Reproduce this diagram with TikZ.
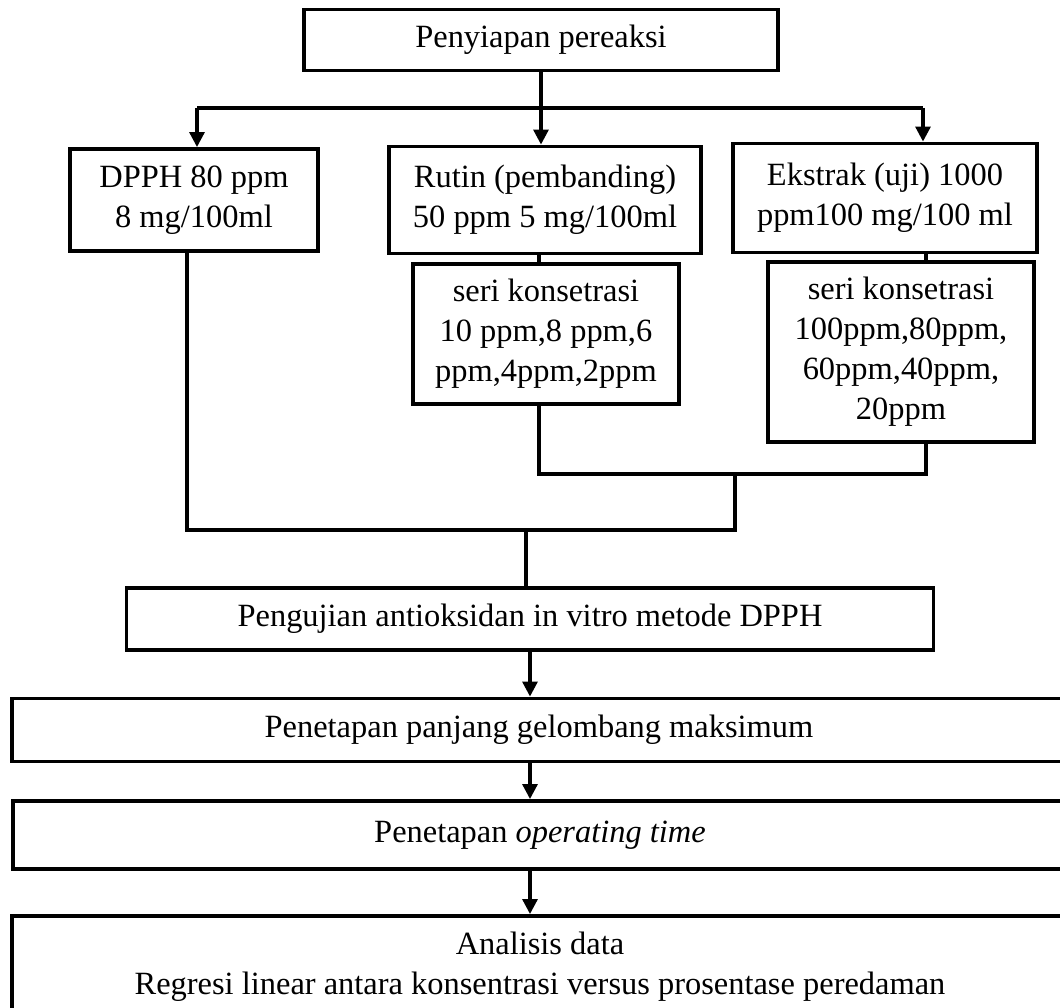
\documentclass[tikz,border=0pt]{standalone}
\usepackage{fontspec}
\setmainfont{Liberation Serif}
\usepackage{tikz}
\usetikzlibrary{arrows.meta}

\begin{document}
\begin{tikzpicture}[x = 0.013cm,
                    y = -0.013cm,
                    color = {black}]
% style of boxes and lines
\tikzset{box/.style={draw,line width=1.45pt,align=center,inner sep=0pt,font=\fontsize{12}{14.8}\selectfont},
         size/.style 2 args={minimum width=#1*0.013cm,minimum height=#2*0.013cm},
         line/.style={line width=1.15pt},
         arrow/.style={line width=1.15pt,-{Triangle[length=5.5pt,width=5.5pt]}}}
\useasboundingbox (0,0) rectangle (1060,1008);
\clip (0,0) rectangle (1060,1008);

%boxes
\node[box,size={474}{61}] (prep) at (541,40) {Penyiapan pereaksi};
\node[box,size={248}{102}] (dpph) at (194,200) {DPPH 80 ppm\\8 mg/100ml};
\node[box,size={312}{107}] (rutin) at (545,200) {Rutin (pembanding)\\50 ppm 5 mg/100ml};
\node[box,size={304}{109}] (ekstrak) at (885,198) {Ekstrak (uji) 1000\\ppm100 mg/100 ml};
\node[box,size={266}{140}] (serirutin) at (546,334) {seri konsetrasi\\10 ppm,8 ppm,6\\ppm,4ppm,2ppm};
\node[box,size={266}{180}] (seriekstrak) at (901,352) {seri konsetrasi\\100ppm,80ppm,\\60ppm,40ppm,\\20ppm};
\node[box,size={807}{62}] (uji) at (530,619) {Pengujian antioksidan in vitro metode DPPH};
\node[box,size={1054}{63}] (lambda) at (539,730) {Penetapan panjang gelombang maksimum};
\node[box,size={1054}{68}] (optime) at (540,835) {Penetapan \textit{operating time}};
\node[box,size={1056}{102}] (analisis) at (540,967) {Analisis data\\Regresi linear antara konsentrasi versus prosentase peredaman};

% coordinates
\coordinate (barL) at (197,108);
\coordinate (barR) at (923,108);
\coordinate (colD) at (187,0);
\coordinate (colR) at (539,0);
\coordinate (colE) at (926,0);
\coordinate (mergeS) at (735,474);
\coordinate (mergeA) at (526,530);

%split
\draw[line] (barL) -- (barR);
\draw[arrow] (prep.south) -- (prep.south |- rutin.north);
\draw[arrow] (barL) -- (barL |- dpph.north);
\draw[arrow] (barR) -- (barR |- ekstrak.north);

%series
\draw[line] (colR |- rutin.south) -- (colR |- serirutin.north);
\draw[line] (colE |- ekstrak.south) -- (colE |- seriekstrak.north);

%merge
\draw[line] (colR |- serirutin.south) -- (colR |- mergeS) -- (colE |- mergeS) -- (colE |- seriekstrak.south);
\draw[line] (colD |- dpph.south) -- (colD |- mergeA) -- (mergeS |- mergeA) -- (mergeS);
\draw[line] (mergeA) -- (mergeA |- uji.north);

%steps
\draw[arrow] (uji.south) -- (uji.south |- lambda.north);
\draw[arrow] (uji.south |- lambda.south) -- (uji.south |- optime.north);
\draw[arrow] (uji.south |- optime.south) -- (uji.south |- analisis.north);
\end{tikzpicture}
\end{document}
